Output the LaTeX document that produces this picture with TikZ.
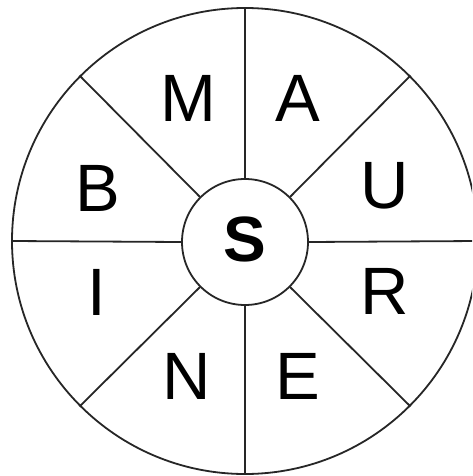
\documentclass[tikz,border=0pt]{standalone}
\usepackage{fontspec}
\setmainfont{Liberation Sans}
\begin{document}
\begin{tikzpicture}[x=1pt,y=-1pt,
  ring/.style={draw=black!85,line width=1.8pt,circle,inner sep=0pt},
  spoke/.style={draw=black!85,line width=1.8pt},
  letter/.style={inner sep=0pt,font=\fontsize{67}{67}\selectfont},
  hub/.style={inner sep=0pt,font=\fontsize{64}{64}\selectfont\bfseries}]
\useasboundingbox (0,0) rectangle (472,476);
\clip (0,0) rectangle (472,476);
\fill[white] (0,0) rectangle (472,476);
\node[ring,minimum size=466pt] (o) at (245,241) {};
\node[ring,minimum size=126pt] (c) at (245,242) {};
\foreach \a in {0,45,...,315} {
  \draw[spoke] (c.\a) -- (o.\a);
}
\node[hub] (s) at (245,239) {S};
\node[letter] (m) at (188,98) {M};
\node[letter] (a) at (298,98) {A};
\node[letter] (u) at (385,186) {U};
\node[letter] (r) at (385,291) {R};
\node[letter] (e) at (298,376) {E};
\node[letter] (n) at (187,376) {N};
\node[letter] (i) at (97,292) {I};
\node[letter] (b) at (98,188) {B};
\end{tikzpicture}
\end{document}
